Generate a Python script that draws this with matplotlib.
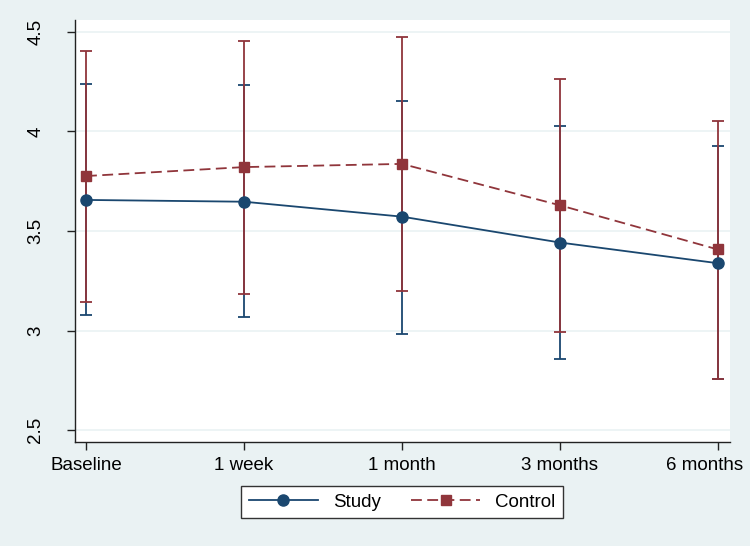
import matplotlib
matplotlib.use("Agg")
import matplotlib.pyplot as plt
import matplotlib.transforms as mtransforms
import numpy as np

# Data
timepoints = ["Baseline", "1 week", "1 month", "3 months", "6 months"]
study_mean = [3.656, 3.647, 3.572, 3.442, 3.338]
study_lo = [3.079, 3.069, 2.984, 2.859, 2.755]
study_hi = [4.238, 4.231, 4.154, 4.027, 3.925]
control_mean = [3.776, 3.821, 3.837, 3.629, 3.407]
control_lo = [3.141, 3.183, 3.201, 2.995, 2.758]
control_hi = [4.405, 4.455, 4.475, 4.264, 4.054]
yticks = [2.5, 3, 3.5, 4, 4.5]

navy = "#1A476F"
maroon = "#90353B"
bg = "#EAF2F3"

plt.rcParams['font.family'] = ['Liberation Sans', 'DejaVu Sans']

fig = plt.figure(figsize=(7.5, 5.46), dpi=100, facecolor=bg)
ax = fig.add_axes([0.1, 0.1905, 0.8733, 0.7729])
ax.set_facecolor("white")

x = np.arange(len(timepoints))
sm = np.array(study_mean)
cm = np.array(control_mean)

# confidence intervals
ax.errorbar(x, sm, yerr=[sm - np.array(study_lo), np.array(study_hi) - sm],
            fmt="none", ecolor=navy, elinewidth=1.3, capsize=4, capthick=1.3, zorder=2)
ax.errorbar(x, cm, yerr=[cm - np.array(control_lo), np.array(control_hi) - cm],
            fmt="none", ecolor=maroon, elinewidth=1.3, capsize=4, capthick=1.3, zorder=3)

# means
ax.plot(x, sm, color=navy, lw=1.3, marker="o", markersize=8, label="Study", zorder=5)
ax.plot(x, cm, color=maroon, lw=1.3, ls=(0, (6, 3)), marker="s", markersize=7.5,
        label="Control", zorder=4)

ax.set_xlim(-0.07, 4.076)
ax.set_ylim(2.44, 4.56)
ax.set_xticks(x)
ax.set_xticklabels(timepoints, fontsize=13.5)
ax.set_yticks(yticks)
ax.set_yticklabels([f"{v:g}" for v in yticks], fontsize=13.5, rotation=90, va="center")
ax.tick_params(axis="both", length=6, width=1, color="#222222")
ax.tick_params(axis="x", pad=5)
ax.tick_params(axis="y", pad=16)

# last label pulled left so it stays inside the figure
last = ax.get_xticklabels()[-1]
last.set_transform(last.get_transform() +
                   mtransforms.ScaledTranslation(-10 / 72, 0, fig.dpi_scale_trans))

ax.grid(axis="y", color=bg, lw=1.2)
ax.set_axisbelow(True)
for s in ["top", "right"]:
    ax.spines[s].set_visible(False)
for s in ["left", "bottom"]:
    ax.spines[s].set_color("#222222")
    ax.spines[s].set_linewidth(1)

leg = fig.legend(loc="center", bbox_to_anchor=(0.536, 0.0806), ncol=2, fontsize=13.5,
                 handlelength=3.7, columnspacing=1.6, handletextpad=0.8,
                 fancybox=False, framealpha=1, edgecolor="#333333", borderpad=0.4)
leg.get_frame().set_linewidth(1)

fig.savefig("out.png", dpi=100, facecolor=bg)
